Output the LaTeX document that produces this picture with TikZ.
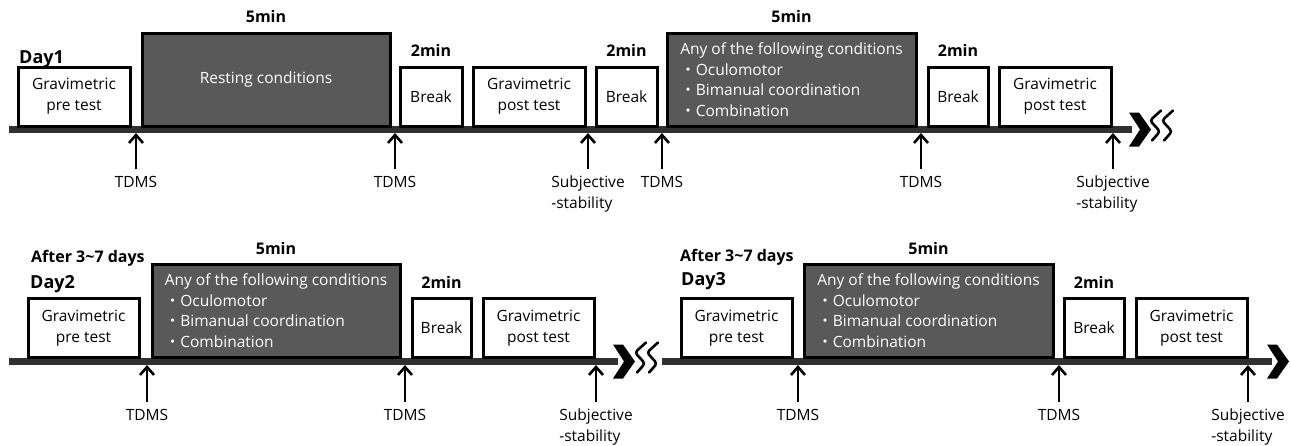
\documentclass[tikz,border=0pt]{standalone}
\usepackage{fontspec}
\setmainfont{Open Sans}
\newfontfamily\jpfont{Noto Sans CJK JP}
\usetikzlibrary{positioning,arrows.meta}
\definecolor{condfill}{HTML}{595959}
\definecolor{barline}{HTML}{303030}
\tikzset{
  stagebox/.style={draw=black, line width=3pt, fill=white, align=center, inner sep=0pt,
  font=\fontsize{15.5}{21}\selectfont
  },
  condbox/.style={stagebox, fill=condfill, text=white, align=left, font=\fontsize{15.5}{20.7}\selectfont},
  timeline/.style={draw=barline, line width=7pt},
  probe/.style={line width=2.6pt, -{Straight Barb[length=8pt,width=14pt]}},
  probelabel/.style={inner xsep=0pt, inner ysep=7pt, align=left, font=\fontsize{15.5}{21}\selectfont},
  durlabel/.style={inner sep=0pt, font=\bfseries\fontsize{16}{19}\selectfont},
  daylabel/.style={inner sep=0pt, anchor=base west, font=\bfseries\fontsize{18}{21}\selectfont},
  gaplabel/.style={inner sep=0pt, anchor=base west, font=\bfseries\fontsize{16}{19}\selectfont},
  chevron/.pic={\fill[black] (-1,-17) -- (9,-17) -- (21,0) -- (9,17) -- (-1,17) -- (10,0) -- cycle;},
  squiggle/.pic={\foreach \s in {0,12}
    \draw[line width=2.6pt, rounded corners=3pt, line cap=round]
      (\s+12,-16) -- (\s+1,-6) -- (\s+11,5) -- (\s+3,14);},
}
\newcommand{\jpbullet}{{\jpfont ・}}

\begin{document}
\begin{tikzpicture}[x=1pt,y=-1pt]
\useasboundingbox (0,0) rectangle (1291,445);

% Day 1
\coordinate (d1s) at (9,129.5);
\coordinate (d1e) at (1132,129.5);
\draw[timeline] (d1s) -- (d1e);
\pic at (1130,129.5) {chevron};
\pic at (1149,126.5) {squiggle};
\node[daylabel] (day1) at (19,63.5) {Day1};

\node[stagebox, minimum width=112, minimum height=59] (pre1) at (74,96.5) {Gravimetric\\pre test};
\node[condbox, align=center, minimum width=248, minimum height=93] (rest1) at (266,79.5) {Resting conditions};
\node[stagebox, minimum width=62, minimum height=59] (brk1a) at (431,96.5) {Break};
\node[stagebox, minimum width=112, minimum height=59] (post1a) at (529,96.5) {Gravimetric\\post test};
\node[stagebox, minimum width=61, minimum height=59] (brk1b) at (626.5,96.5) {Break};
\node[condbox, minimum width=249, minimum height=93] (cond1) at (791.5,79.5)
  {Any of the following conditions\\\jpbullet Oculomotor\\\jpbullet Bimanual coordination\\\jpbullet Combination};
\node[stagebox, minimum width=60, minimum height=59] (brk1c) at (958,96.5) {Break};
\node[stagebox, minimum width=112, minimum height=59] (post1b) at (1055,96.5) {Gravimetric\\post test};

\node[durlabel, above=8.5pt of rest1] (dur1a) {5min};
\node[durlabel, above=8.5pt of brk1a] (dur1b) {2min};
\node[durlabel, above=8.5pt of brk1b] (dur1c) {2min};
\node[durlabel, above=8.5pt of cond1] (dur1d) {5min};
\node[durlabel, above=8.5pt of brk1c] (dur1e) {2min};

\coordinate (m1a) at (136,133);
\coordinate (m1b) at (395,133);
\coordinate (m1c) at (588,133);
\coordinate (m1d) at (662,133);
\coordinate (m1e) at (921,133);
\coordinate (m1f) at (1113,133);
\node[probelabel, below=36pt of m1a] (t1a) {TDMS};
\node[probelabel, below=36pt of m1b] (t1b) {TDMS};
\node[probelabel, below=36pt of m1c] (t1c) {Subjective\\-stability};
\node[probelabel, below=36pt of m1d] (t1d) {TDMS};
\node[probelabel, below=36pt of m1e] (t1e) {TDMS};
\node[probelabel, below=36pt of m1f] (t1f) {Subjective\\-stability};
\foreach \k in {a,b,c,d,e,f}
  \draw[probe] (t1\k) -- (m1\k);

% Day 2
\coordinate (d2s) at (9,361.5);
\coordinate (d2e) at (618,361.5);
\draw[timeline] (d2s) -- (d2e);
\pic at (614,361.5) {chevron};
\pic at (634,358.5) {squiggle};
\node[gaplabel] (gap2) at (31,262.5) {After 3\textasciitilde7 days};
\node[daylabel] (day2) at (30,288.5) {Day2};

\node[stagebox, minimum width=111, minimum height=58.5] (pre2) at (83.5,327.75) {Gravimetric\\pre test};
\node[condbox, minimum width=248, minimum height=93] (cond2) at (276,310.5)
  {Any of the following conditions\\\jpbullet Oculomotor\\\jpbullet Bimanual coordination\\\jpbullet Combination};
\node[stagebox, minimum width=59, minimum height=58.5] (brk2) at (441.5,327.75) {Break};
\node[stagebox, minimum width=111, minimum height=58.5] (post2) at (538.5,327.75) {Gravimetric\\post test};

\node[durlabel, above=8pt of cond2] (dur2a) {5min};
\node[durlabel, above=8.5pt of brk2] (dur2b) {2min};

\coordinate (m2a) at (147,365);
\coordinate (m2b) at (405,365);
\coordinate (m2c) at (596,365);
\node[probelabel, below=37pt of m2a] (t2a) {TDMS};
\node[probelabel, below=37pt of m2b] (t2b) {TDMS};
\node[probelabel, below=37pt of m2c] (t2c) {Subjective\\-stability};
\foreach \k in {a,b,c}
  \draw[probe] (t2\k) -- (m2\k);

% Day 3
\coordinate (d3s) at (662,361.5);
\coordinate (d3e) at (1272,361.5);
\draw[timeline] (d3s) -- (d3e);
\pic at (1268,361.5) {chevron};
\node[gaplabel] (gap3) at (680,261.5) {After 3\textasciitilde7 days};
\node[daylabel] (day3) at (681,285.5) {Day3};

\node[stagebox, minimum width=111, minimum height=58.5] (pre3) at (736.5,327.75) {Gravimetric\\pre test};
\node[condbox, minimum width=249, minimum height=93] (cond3) at (928.5,310.5)
  {Any of the following conditions\\\jpbullet Oculomotor\\\jpbullet Bimanual coordination\\\jpbullet Combination};
\node[stagebox, minimum width=60, minimum height=58.5] (brk3) at (1094,327.75) {Break};
\node[stagebox, minimum width=111, minimum height=58.5] (post3) at (1191.5,327.75) {Gravimetric\\post test};

\node[durlabel, above=8pt of cond3] (dur3a) {5min};
\node[durlabel, above=8.5pt of brk3] (dur3b) {2min};

\coordinate (m3a) at (798,365);
\coordinate (m3b) at (1059,365);
\coordinate (m3c) at (1248,365);
\node[probelabel, below=37pt of m3a] (t3a) {TDMS};
\node[probelabel, below=37pt of m3b] (t3b) {TDMS};
\node[probelabel, below=37pt of m3c] (t3c) {Subjective\\-stability};
\foreach \k in {a,b,c}
  \draw[probe] (t3\k) -- (m3\k);

\end{tikzpicture}
\end{document}
